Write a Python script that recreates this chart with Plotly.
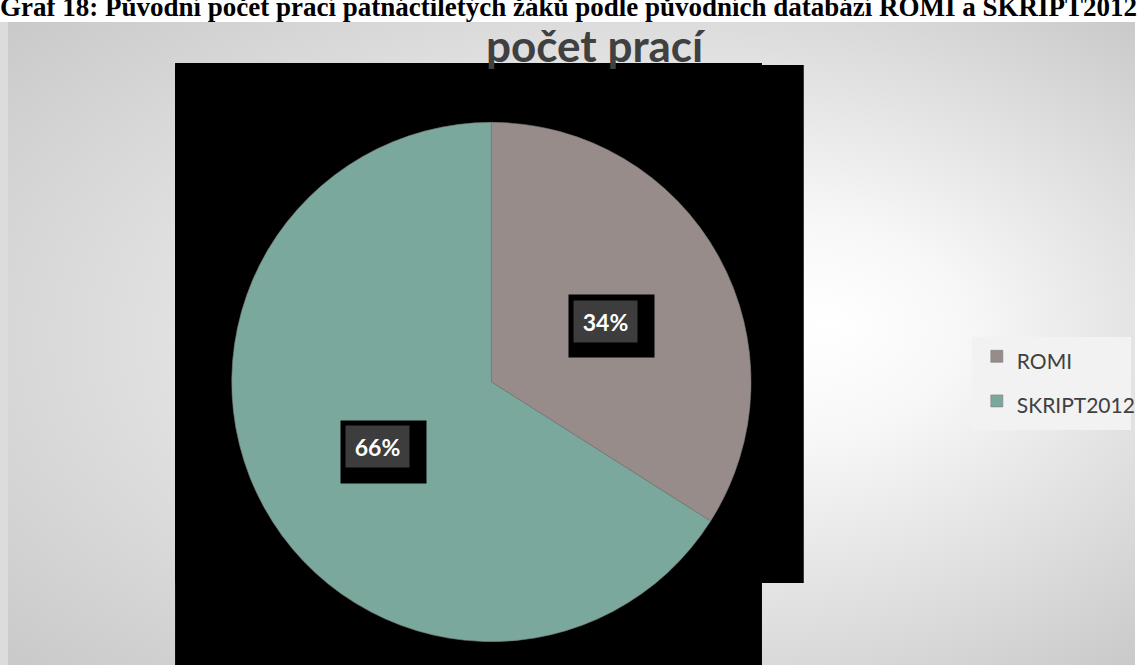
import base64, math
import plotly.graph_objects as go

# ---- data ----
labels = ["ROMI", "SKRIPT2012"]
values = [34, 66]
colors = ["#978c8a", "#7ba89c"]
chart_title = "počet prací"
caption = "Graf 18: Původní počet prací patnáctiletých žáků podle původních databází ROMI a SKRIPT2012"

W, H = 1141, 665

def px(x):
    return x / W

def py(y):
    return 1 - y / H

# background gradient (chart area) as svg image
svg = f'''<svg xmlns="http://www.w3.org/2000/svg" width="{W}" height="{H}" viewBox="0 0 {W} {H}">
<defs><radialGradient id="g" cx="0.5" cy="0.5" r="0.72" fx="0.73" fy="0.47">
<stop offset="0" stop-color="#ffffff"/><stop offset="0.25" stop-color="#f7f7f7"/><stop offset="1" stop-color="#c8c8c8"/>
</radialGradient></defs>
<rect x="0" y="0" width="{W}" height="{H}" fill="#ffffff"/>
<rect x="0" y="22" width="{W}" height="{H-22}" fill="url(#g)"/>
<rect x="0" y="22" width="8" height="{H-22}" fill="#dcdcdc"/>
</svg>'''
src = "data:image/svg+xml;base64," + base64.b64encode(svg.encode()).decode()

fig = go.Figure()

# pie geometry
cx, cy, R = 494, 382, 261
legend_labels = [f'<span style="font-size:21px">{l}</span>' for l in labels]
fig.add_trace(go.Pie(
    labels=legend_labels, values=values, sort=False, direction="clockwise", rotation=0,
    marker=dict(colors=colors, line=dict(color="#7a7a7a", width=0.6)),
    textinfo="none", customdata=labels, hovertemplate="%{customdata}: %{percent}<extra></extra>",
    domain=dict(x=[px(cx - R), px(cx + R)], y=[py(cy + R), py(cy - R)]),
))

shapes = [
    dict(type="rect", xref="paper", yref="paper", layer="below",
         x0=px(176), x1=px(766), y0=py(665), y1=py(63), fillcolor="black", line_width=0),
    dict(type="rect", xref="paper", yref="paper", layer="below",
         x0=px(176), x1=px(808), y0=py(583), y1=py(65), fillcolor="black", line_width=0),
    # legend box
    dict(type="rect", xref="paper", yref="paper", layer="below",
         x0=px(977), x1=px(1137), y0=py(430), y1=py(337), fillcolor="#f2f2f2", line_width=0),
]

annotations = [
    dict(text=caption, x=px(572), y=py(18), xref="paper", yref="paper",
         xanchor="center", yanchor="bottom", yshift=-6, showarrow=False,
         font=dict(family="Liberation Serif", size=27, color="black", weight="bold")),
    dict(text=chart_title, x=px(599), y=py(45), xref="paper", yref="paper",
         xanchor="center", yanchor="middle", showarrow=False,
         font=dict(family="Lato", size=44, color="#404040", weight="bold")),
]

total = sum(values)
cum = 0
for v in values:
    mid = (cum + v / 2) / total * 2 * math.pi
    cum += v
    lx = cx + 0.5 * R * math.sin(mid)
    ly = cy - 0.5 * R * math.cos(mid)
    annotations.append(dict(text=" ", x=px(lx + 6), y=py(ly + 7), xref="paper", yref="paper",
                            xanchor="center", yanchor="middle",
                            showarrow=False, width=85, height=62, bgcolor="black", borderpad=0))
    annotations.append(dict(text=f"{round(v / total * 100)}%", x=px(lx), y=py(ly + 2),
                            xref="paper", yref="paper", showarrow=False,
                            xanchor="center", yanchor="middle",
                            width=63, height=41, bgcolor="#3d3d3d", borderpad=0,
                            font=dict(family="Lato", size=23, color="white", weight="bold")))

fig.update_layout(
    width=W, height=H, margin=dict(l=0, r=0, t=0, b=0),
    paper_bgcolor="white", plot_bgcolor="rgba(0,0,0,0)",
    images=[dict(source=src, xref="paper", yref="paper", x=0, y=1, sizex=1, sizey=1,
                 xanchor="left", yanchor="top", sizing="stretch", layer="below")],
    shapes=shapes, annotations=annotations,
    showlegend=True,
    legend=dict(x=px(982), y=py(379), xanchor="left", yanchor="middle",
                bgcolor="rgba(0,0,0,0)", font=dict(family="Lato", size=32, color="#404040"),
                itemclick=False),
)

fig.write_html("out.html", config={"displayModeBar": False},
               post_script="document.body.style.margin='0';document.body.style.overflow='hidden';")
